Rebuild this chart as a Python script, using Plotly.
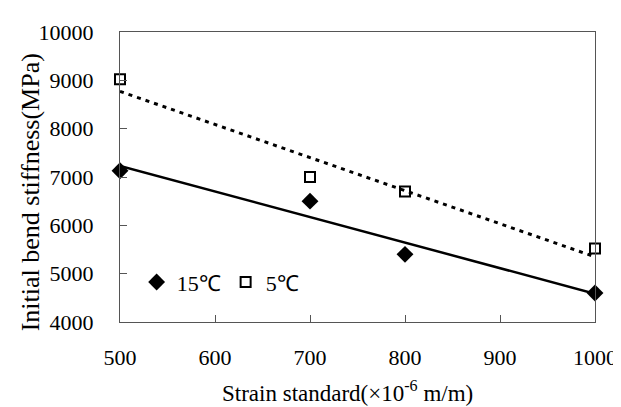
import numpy as np
import plotly.graph_objects as go

strain = [500, 700, 800, 1000]
stiff_15 = [7130, 6500, 5400, 4600]
stiff_5 = [9020, 7000, 6700, 5520]
x_ticks = [500, 600, 700, 800, 900, 1000]
y_ticks = [4000, 5000, 6000, 7000, 8000, 9000, 10000]
x_title = "Strain standard(×10<sup>-6</sup> m/m)"
y_title = "Initial bend stiffness(MPa)"

font = "Liberation Serif"

fig = go.Figure()

xs = np.array(strain, dtype=float)
xl = np.array([xs.min(), xs.max()])
for ys, dash in [(stiff_15, "solid"), (stiff_5, "4px,5px")]:
    k, b = np.polyfit(xs, np.array(ys, dtype=float), 1)
    fig.add_trace(go.Scatter(x=xl, y=k * xl + b, mode="lines",
                             line=dict(color="black", width=2.5 if dash == "solid" else 3, dash=dash),
                             showlegend=False, hoverinfo="skip", cliponaxis=False))

fig.add_trace(go.Scatter(x=strain, y=stiff_15, mode="markers", name="15℃",
                         marker=dict(symbol="diamond", size=13, color="black"),
                         cliponaxis=False))
fig.add_trace(go.Scatter(x=strain, y=stiff_5, mode="markers", name="5℃",
                         marker=dict(symbol="square-open", size=10, color="black",
                                     line=dict(width=2, color="black")),
                         cliponaxis=False))

fig.update_layout(
    width=621, height=407,
    margin=dict(l=112, r=24, t=18, b=93),
    plot_bgcolor="white", paper_bgcolor="white",
    font=dict(family=font, size=22, color="black"),
    showlegend=True,
    legend=dict(orientation="h", x=0.035, y=0.137, xanchor="left", yanchor="middle",
                bgcolor="rgba(0,0,0,0)", font=dict(family=font, size=22), itemwidth=30,
                tracegroupgap=0),
    annotations=[
        dict(text=x_title, xref="paper", yref="paper", x=0.478, y=-0.238,
             xanchor="center", yanchor="middle", showarrow=False,
             font=dict(family=font, size=23)),
        dict(text=y_title, xref="paper", yref="paper", x=-0.188, y=0.446,
             xanchor="center", yanchor="middle", showarrow=False, textangle=-90,
             font=dict(family=font, size=26)),
    ],
)
fig.update_xaxes(range=[500, 1000], tickvals=x_ticks, ticktext=[str(v) for v in x_ticks],
                 ticks="inside", ticklen=7, ticklabelstandoff=16,
                 tickcolor="#555", linecolor="#555", linewidth=1, mirror=True,
                 showgrid=False, zeroline=False,
                 tickfont=dict(family=font, size=22))
fig.update_yaxes(range=[4000, 10000], tickvals=y_ticks, ticktext=[str(v) for v in y_ticks],
                 ticks="inside", ticklen=7, ticklabelstandoff=21,
                 tickcolor="#555", linecolor="#555", linewidth=1, mirror=True,
                 showgrid=False, zeroline=False,
                 tickfont=dict(family=font, size=22))

fig.write_html("out.html")
